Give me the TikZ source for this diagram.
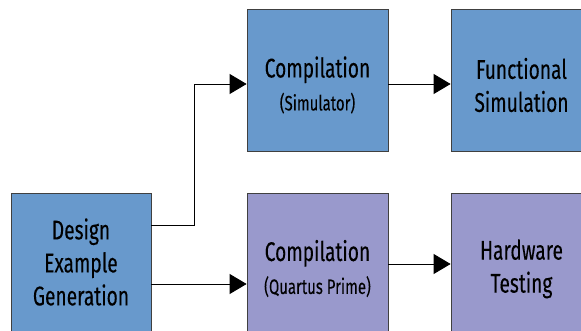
\documentclass[tikz,border=0pt]{standalone}
\usepackage{fontspec}
\setmainfont{Fira Sans}[FakeStretch=0.71, FakeBold=0.15]
\usetikzlibrary{arrows.meta}
\definecolor{simblue}{RGB}{104,153,204}
\definecolor{hwpurple}{RGB}{153,153,204}
\newcommand{\toolname}[1]{{\fontsize{21}{33}\selectfont(#1)}}
\newcommand{\lift}{\rule{0pt}{30pt}}
\begin{document}
\begin{tikzpicture}[x=1pt, y=-1pt,
  stage/.style={draw=black!75, line width=0.8pt, minimum width=141pt, minimum height=142pt,
    inner sep=0pt, align=center, font=\fontsize{27}{33}\selectfont},
  simstage/.style={stage, fill=simblue},
  hwstage/.style={stage, fill=hwpurple},
  flow/.style={-{Triangle[length=17pt,width=20pt]}, line width=0.8pt}]
  \useasboundingbox (0,0) rectangle (581,331);
  \node[simstage, minimum width=140pt, minimum height=138pt] (gen) at (81,262) {Design\\Example\\Generation};
  \node[simstage] (simcomp) at (317.5,80.5) {\lift Compilation\\\toolname{Simulator}};
  \node[simstage] (funcsim) at (521.5,80.5) {\lift Functional\\Simulation};
  \node[hwstage] (qcomp) at (317.5,264) {\lift Compilation\\\toolname{Quartus Prime}};
  \node[hwstage] (hwtest) at (521.5,264) {\lift Hardware\\Testing};
  \coordinate (genup) at ([yshift=37pt]gen.east);
  \coordinate (gendown) at ([yshift=-22pt]gen.east);
  \draw[flow] (genup) -- ++(43,0) |- ([yshift=-3.5pt]simcomp.west);
  \draw[flow] (gendown) -- (gendown -| qcomp.west);
  \draw[flow] ([yshift=-3.5pt]simcomp.east) -- ([yshift=-3.5pt]funcsim.west);
  \draw[flow] (qcomp) -- (hwtest);
\end{tikzpicture}
\end{document}
